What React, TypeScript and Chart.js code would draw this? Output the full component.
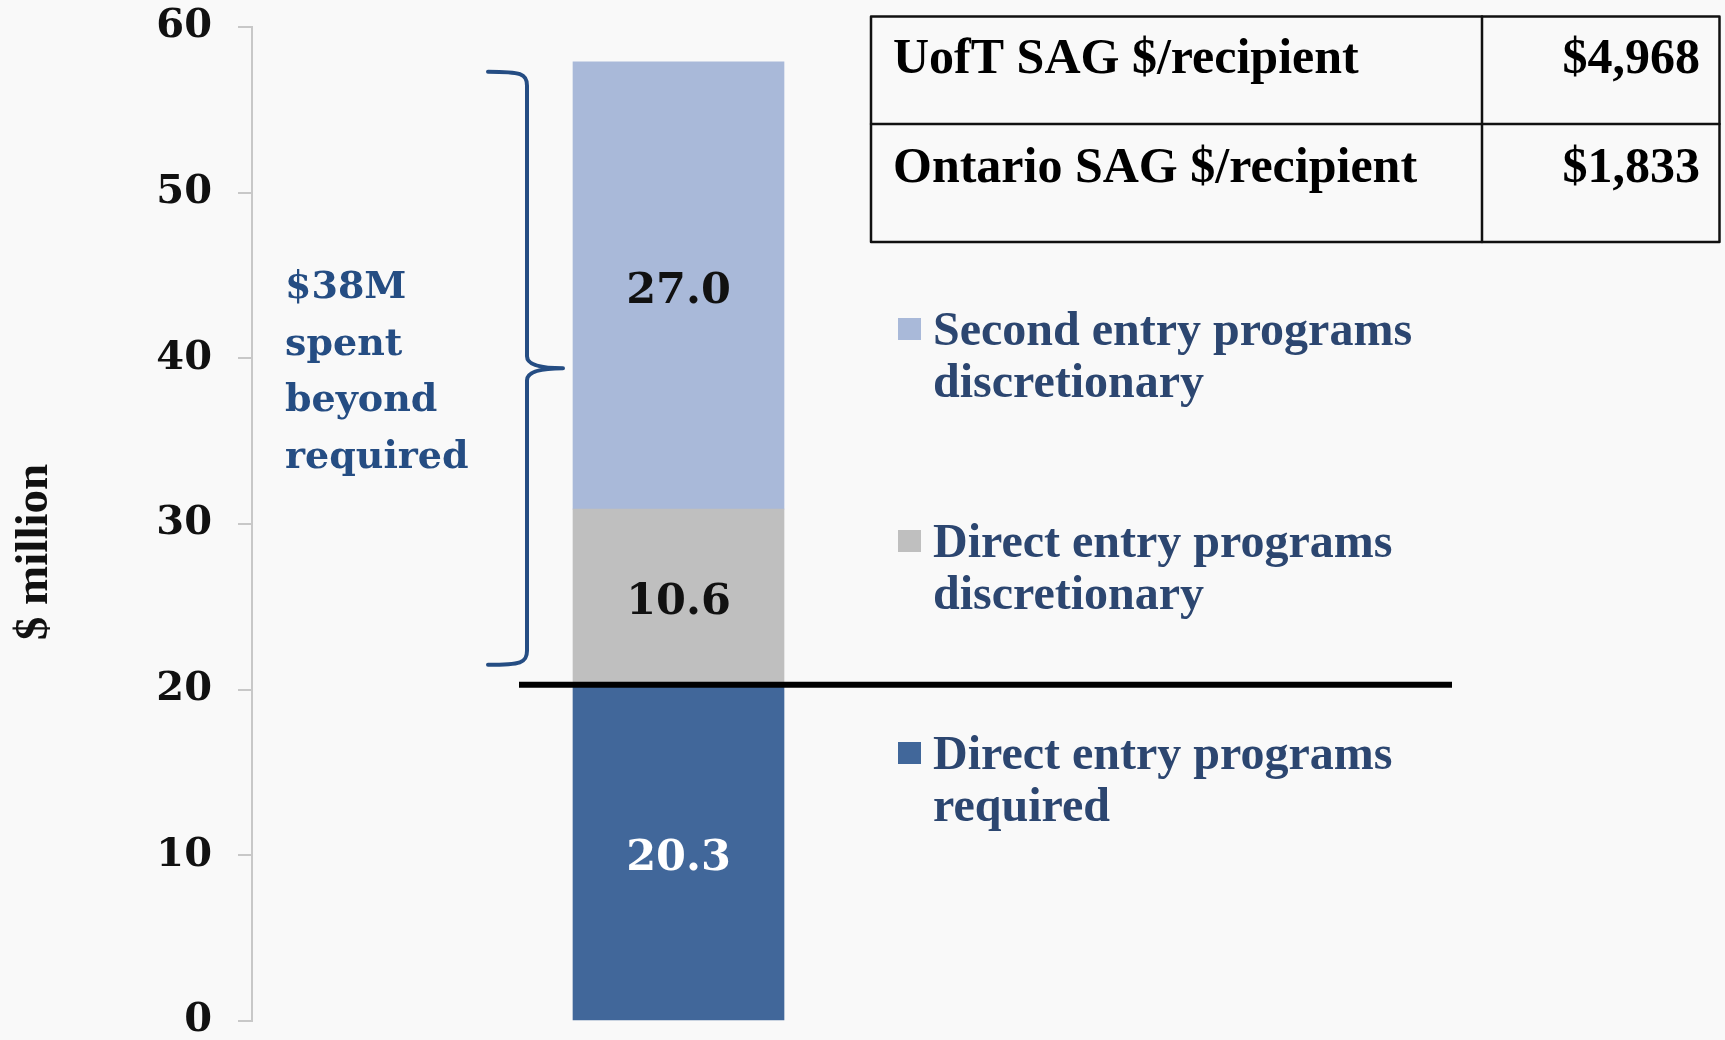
import React, { useEffect, useRef } from 'react';
import { Chart, registerables } from 'chart.js';

Chart.register(...registerables);

// ---------- data ----------
const categories = ['U of T'];
const seriesNames = [
  'Direct entry programs required',
  'Direct entry programs discretionary',
  'Second entry programs discretionary',
];
const requiredValues = [20.3];
const directDiscretionaryValues = [10.6];
const secondDiscretionaryValues = [27.0];
const yTickValues = [0, 10, 20, 30, 40, 50, 60];
const requiredThreshold = 20.3;
const braceRange = [21.5, 57.3];
const braceLines = ['$38M', 'spent', 'beyond', 'required'];
const tableLabels = ['UofT SAG $/recipient', 'Ontario SAG $/recipient'];
const tableValues = ['$4,968', '$1,833'];
const axisTitle = '$ million';

// ---------- styles ----------
const W = 1725;
const H = 1040;
const seriesColors = ['#41679a', '#bfbfbf', '#a9b9d9'];
const labelColors = ['#ffffff', '#111111', '#111111'];
const DEJAVU = '"DejaVu Serif", serif';
const LIB = '"Liberation Serif", serif';
const braceBlue = '#254d83';
const legendBlue = '#2c4670';

function wrapWords(ctx: CanvasRenderingContext2D, text: string, maxWidth: number): string[] {
  const words = text.split(' ');
  const lines: string[] = [];
  let cur = '';
  for (const w of words) {
    const t = cur ? cur + ' ' + w : w;
    if (ctx.measureText(t).width > maxWidth && cur) {
      lines.push(cur);
      cur = w;
    } else cur = t;
  }
  if (cur) lines.push(cur);
  return lines;
}

const annotationPlugin = {
  id: 'annotations',
  afterDatasetsDraw(chart: any) {
    const ctx: CanvasRenderingContext2D = chart.ctx;
    const yScale = chart.scales.y;
    ctx.save();

    // segment value labels
    let barLeft = 0;
    chart.data.datasets.forEach((ds: any, i: number) => {
      const meta = chart.getDatasetMeta(i);
      meta.data.forEach((el: any, j: number) => {
        const p = el.getProps(['x', 'y', 'base', 'width'], true);
        barLeft = p.x - p.width / 2;
        ctx.fillStyle = labelColors[i];
        ctx.font = `bold 43px ${DEJAVU}`;
        ctx.textAlign = 'center';
        ctx.textBaseline = 'middle';
        ctx.fillText(Number(ds.data[j]).toFixed(1), p.x, (p.y + p.base) / 2 + 6);
      });
    });

    // black threshold line
    const yLine = yScale.getPixelForValue(requiredThreshold);
    ctx.strokeStyle = '#000000';
    ctx.lineWidth = 6;
    ctx.beginPath();
    ctx.moveTo(barLeft - 54, yLine);
    ctx.lineTo(1452, yLine);
    ctx.stroke();

    // brace
    const yTop = yScale.getPixelForValue(braceRange[1]);
    const yBot = yScale.getPixelForValue(braceRange[0]);
    const yMid = (yTop + yBot) / 2;
    const endX = barLeft - 85;
    const spineX = barLeft - 46;
    const tipX = barLeft - 10;
    ctx.strokeStyle = braceBlue;
    ctx.lineWidth = 4;
    ctx.lineCap = 'round';
    ctx.lineJoin = 'round';
    ctx.beginPath();
    ctx.moveTo(endX, yTop);
    ctx.bezierCurveTo(spineX - 6, yTop, spineX, yTop + 2, spineX, yTop + 14);
    ctx.lineTo(spineX, yMid - 12);
    ctx.quadraticCurveTo(spineX, yMid, tipX, yMid);
    ctx.moveTo(tipX, yMid);
    ctx.quadraticCurveTo(spineX, yMid, spineX, yMid + 12);
    ctx.lineTo(spineX, yBot - 14);
    ctx.bezierCurveTo(spineX, yBot - 2, spineX - 6, yBot, endX, yBot);
    ctx.stroke();

    // brace text
    ctx.fillStyle = braceBlue;
    ctx.font = `bold 38px ${DEJAVU}`;
    ctx.textAlign = 'left';
    ctx.textBaseline = 'alphabetic';
    braceLines.forEach((line, i) => {
      ctx.fillText(line, 285, 298 + i * 56.7);
    });

    // axis title
    ctx.save();
    ctx.translate(35, 552);
    ctx.rotate(-Math.PI / 2);
    ctx.fillStyle = '#111111';
    ctx.font = `bold 47px ${LIB}`;
    ctx.textAlign = 'center';
    ctx.textBaseline = 'middle';
    ctx.fillText(axisTitle, 0, 0);
    ctx.restore();

    // legend (top entry = last dataset)
    const order = [2, 1, 0];
    const baselines = [345, 557, 769];
    ctx.font = `bold 48px ${LIB}`;
    ctx.textAlign = 'left';
    ctx.textBaseline = 'alphabetic';
    order.forEach((di, k) => {
      const ds = chart.data.datasets[di];
      const b = baselines[k];
      ctx.fillStyle = seriesColors[di];
      ctx.fillRect(898, b - 27, 23, 22);
      ctx.fillStyle = legendBlue;
      const lines = wrapWords(ctx, ds.label, 520);
      lines.forEach((ln, li) => ctx.fillText(ln, 933, b + li * 52));
    });

    // table
    const tx0 = 871, tx1 = 1719.5, tcol = 1482;
    const ty0 = 16.5, trow = 124, ty1 = 242;
    ctx.strokeStyle = '#111111';
    ctx.lineWidth = 2.5;
    ctx.strokeRect(tx0, ty0, tx1 - tx0, ty1 - ty0);
    ctx.beginPath();
    ctx.moveTo(tx0, trow);
    ctx.lineTo(tx1, trow);
    ctx.moveTo(tcol, ty0);
    ctx.lineTo(tcol, ty1);
    ctx.stroke();
    ctx.fillStyle = '#000000';
    ctx.font = `bold 50px ${LIB}`;
    const rowBase = [73, 182];
    tableLabels.forEach((lab, i) => {
      ctx.textAlign = 'left';
      ctx.fillText(lab, 893, rowBase[i]);
      ctx.textAlign = 'right';
      ctx.fillText(tableValues[i], 1700, rowBase[i]);
    });

    ctx.restore();
  },
};

export default function App() {
  const canvasRef = useRef<HTMLCanvasElement | null>(null);

  useEffect(() => {
    document.body.style.margin = '0';
    const canvas = canvasRef.current;
    if (!canvas) return;
    const chart = new Chart(canvas, {
      type: 'bar',
      data: {
        labels: categories,
        datasets: [
          { label: seriesNames[0], data: requiredValues, backgroundColor: seriesColors[0] },
          { label: seriesNames[1], data: directDiscretionaryValues, backgroundColor: seriesColors[1] },
          { label: seriesNames[2], data: secondDiscretionaryValues, backgroundColor: seriesColors[2] },
        ],
      },
      options: {
        animation: false,
        responsive: false,
        maintainAspectRatio: false,
        events: [],
        layout: { autoPadding: false, padding: { left: 0, right: W - 1105, top: 27, bottom: 19 } },
        datasets: { bar: { barThickness: 211 } },
        plugins: {
          legend: { display: false },
          tooltip: { enabled: false },
          title: { display: false },
        },
        scales: {
          x: { stacked: true, display: false, offset: true },
          y: {
            stacked: true,
            min: 0,
            max: 60,
            afterFit: (scale: any) => {
              scale.width = 252;
              scale.paddingTop = 0;
              scale.paddingBottom = 0;
            },
            afterBuildTicks: (scale: any) => {
              scale.ticks = yTickValues.map((v) => ({ value: v }));
            },
            border: { display: true, color: '#c8c8c8', width: 2 },
            grid: {
              display: true,
              drawOnChartArea: false,
              drawTicks: true,
              tickLength: 14,
              color: '#c8c8c8',
              lineWidth: 2,
            },
            ticks: {
              padding: 26,
              color: '#111111',
              font: { family: DEJAVU, size: 40, weight: 'bold', lineHeight: 1 },
            },
          },
        },
      },
      plugins: [annotationPlugin],
    });
    return () => chart.destroy();
  }, []);

  return (
    <div style={{ position: 'absolute', left: 0, top: 0, width: W, height: H, background: '#f9f9f9' }}>
      <canvas ref={canvasRef} width={W} height={H} style={{ display: 'block' }} />
    </div>
  );
}
